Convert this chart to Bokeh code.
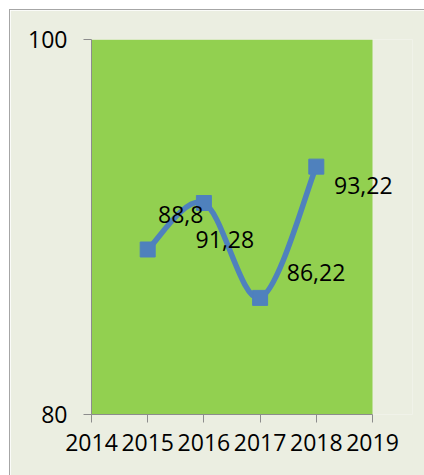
from bokeh.plotting import figure
from bokeh.models import FixedTicker, ColumnDataSource, Range1d, LabelSet, BoxAnnotation
from bokeh.core.properties import value
from bokeh.embed import file_html
from bokeh.resources import INLINE
import numpy as np

# ---- data ----
years = [2015, 2016, 2017, 2018]
values = [88.8, 91.28, 86.22, 93.22]
point_labels = ["88,8", "91,28", "86,22", "93,22"]
x_ticks = [2014, 2015, 2016, 2017, 2018, 2019]
y_ticks = [80, 100]

# label placement (screen pixel offsets)
label_dx = [33, 21, 56, 47]
label_dy = [35, -36, 25, -19]

BG = "#ebeee1"
GREEN = "#92d050"
BLUE = "#4f81bd"
GRAY = "#8c8c8c"
FONT = "Open Sans"
FS = "23px"

X0, X1 = x_ticks[0], x_ticks[-1]
AREA_W = 281      # pixel width of the green plot area
EXTRA_W = 40      # room to the right for labels
x_end = X1 + (X1 - X0) * EXTRA_W / AREA_W

p = figure(width=416, height=467, output_backend="svg", toolbar_location=None,
           x_range=Range1d(X0, x_end), y_range=Range1d(80, 100),
           min_border_left=81, min_border_right=416 - 81 - AREA_W - EXTRA_W,
           min_border_top=29, min_border_bottom=63)
p.background_fill_color = BG
p.border_fill_color = BG
p.outline_line_color = None
p.margin = (9, 0, 0, 9)
p.styles = {"border-top": "1px solid #a6a6a6", "border-left": "1px solid #a6a6a6"}

p.add_layout(BoxAnnotation(left=X0, right=X1, bottom=80, top=100,
                           fill_color=GREEN, fill_alpha=1, line_color=None, level="underlay"))

# smooth line (Catmull-Rom style Bezier, like Excel's smoothed line)
xs = np.array(years, dtype=float)
ys = np.array(values, dtype=float)
n = len(xs)
x0, y0, x1, y1, cx0, cy0, cx1, cy1 = [], [], [], [], [], [], [], []
for i in range(n - 1):
    im1 = max(i - 1, 0)
    ip2 = min(i + 2, n - 1)
    x0.append(xs[i]); y0.append(ys[i]); x1.append(xs[i + 1]); y1.append(ys[i + 1])
    cx0.append(xs[i] + (xs[i + 1] - xs[im1]) / 6); cy0.append(ys[i] + (ys[i + 1] - ys[im1]) / 6)
    cx1.append(xs[i + 1] - (xs[ip2] - xs[i]) / 6); cy1.append(ys[i + 1] - (ys[ip2] - ys[i]) / 6)
p.bezier(x0=x0, y0=y0, x1=x1, y1=y1, cx0=cx0, cy0=cy0, cx1=cx1, cy1=cy1,
         line_color=BLUE, line_width=5.5)

p.scatter(years, values, marker="square", size=15, fill_color=BLUE, line_color=BLUE)

src = ColumnDataSource(dict(x=years, y=values, t=point_labels, dx=label_dx, dy=label_dy))
p.add_layout(LabelSet(x="x", y="y", text="t", x_offset="dx", y_offset="dy", source=src,
                      text_align="center", text_baseline="middle", text_font=value(FONT),
                      text_font_size=value(FS), text_color="black"))

# axes
p.xaxis.ticker = FixedTicker(ticks=x_ticks)
p.xaxis.major_label_overrides = {t: str(t) for t in x_ticks}
p.xaxis.bounds = (X0, X1)
p.yaxis.ticker = FixedTicker(ticks=y_ticks)
p.yaxis.major_label_overrides = {t: str(t) for t in y_ticks}
for ax in (p.xaxis, p.yaxis):
    ax.axis_line_color = GRAY
    ax.major_tick_line_color = GRAY
    ax.major_tick_out = 8
    ax.major_tick_in = 0
    ax.minor_tick_line_color = None
    ax.major_label_text_font = FONT
    ax.major_label_text_font_size = FS
    ax.major_label_text_color = "black"
p.xaxis.major_label_standoff = 11
p.yaxis.major_label_standoff = 16

p.xgrid.grid_line_color = None
p.ygrid.ticker = FixedTicker(ticks=y_ticks)
p.ygrid.bounds = (X0, X1)
p.ygrid.grid_line_color = GRAY

open("out.html", "w").write(file_html(p, INLINE))
